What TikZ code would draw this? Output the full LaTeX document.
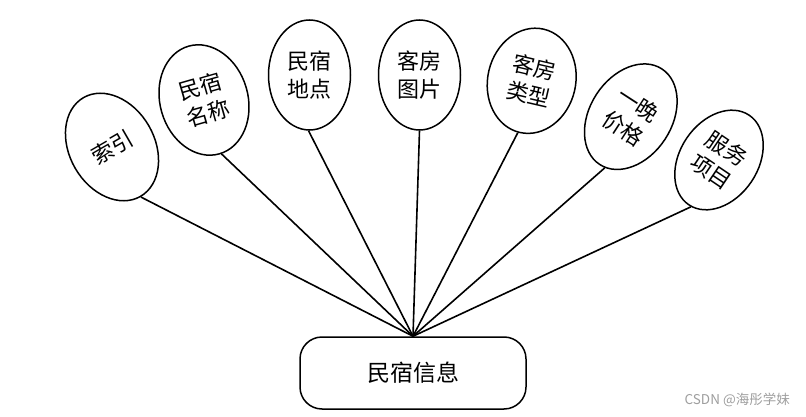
\documentclass[tikz,border=0pt]{standalone}
\usepackage{fontspec}
\setmainfont{Noto Sans CJK SC}
\newfontfamily\wmfont{Noto Sans CJK SC}
\usetikzlibrary{shapes.geometric}
\tikzset{
  attr/.style={ellipse, draw=black, line width=1.5pt, fill=white, inner sep=0pt,
    font=\fontsize{22}{28}\selectfont, align=center},
  entity/.style={rectangle, rounded corners=22pt, draw=black, line width=1.5pt, fill=white,
    minimum width=226pt, minimum height=72pt, font=\fontsize{23}{28}\selectfont},
  link/.style={line width=1.6pt, black},
  wm/.style={text=black!38, font=\wmfont\fontsize{13.5}{16}\selectfont, inner sep=0pt}
}
\begin{document}
\begin{tikzpicture}[x=1pt, y=-1pt]
\useasboundingbox (0,0) rectangle (806,417);
\node[entity] (hub) at (413,373) {民宿信息};
\node[attr, minimum width=85pt, minimum height=114pt, rotate=30] (e1) at (112,147) {索引};
\node[attr, minimum width=88pt, minimum height=112pt, rotate=16] (e2) at (204,100) {民宿\\名称};
\node[attr, minimum width=82pt, minimum height=110pt] (e3) at (309.5,75) {民宿\\地点};
\node[attr, minimum width=82pt, minimum height=110pt] (e4) at (419.5,75) {客房\\图片};
\node[attr, minimum width=88pt, minimum height=106pt, rotate=-13] (e5) at (531.7,80.8) {客房\\类型};
\node[attr, minimum width=82pt, minimum height=114pt, rotate=-33] (e6) at (630.8,116.7) {一晚\\价格};
\node[attr, minimum width=78pt, minimum height=108pt, rotate=-34] (e7) at (719,160) {服务\\项目};
\coordinate (top) at (hub.north);
\draw[link] (top) -- (e1.-90);
\draw[link] (top) -- (e2.-88);
\draw[link] (top) -- (e3.-91);
\draw[link] (top) -- (e4.-90);
\draw[link] (top) -- (e5.-92);
\draw[link] (top) -- (e6.-84);
\draw[link] (top) -- (e7.-87);
\node[wm, anchor=east] (wmark) at (790,400) {CSDN @海彤学妹};
\end{tikzpicture}
\end{document}
